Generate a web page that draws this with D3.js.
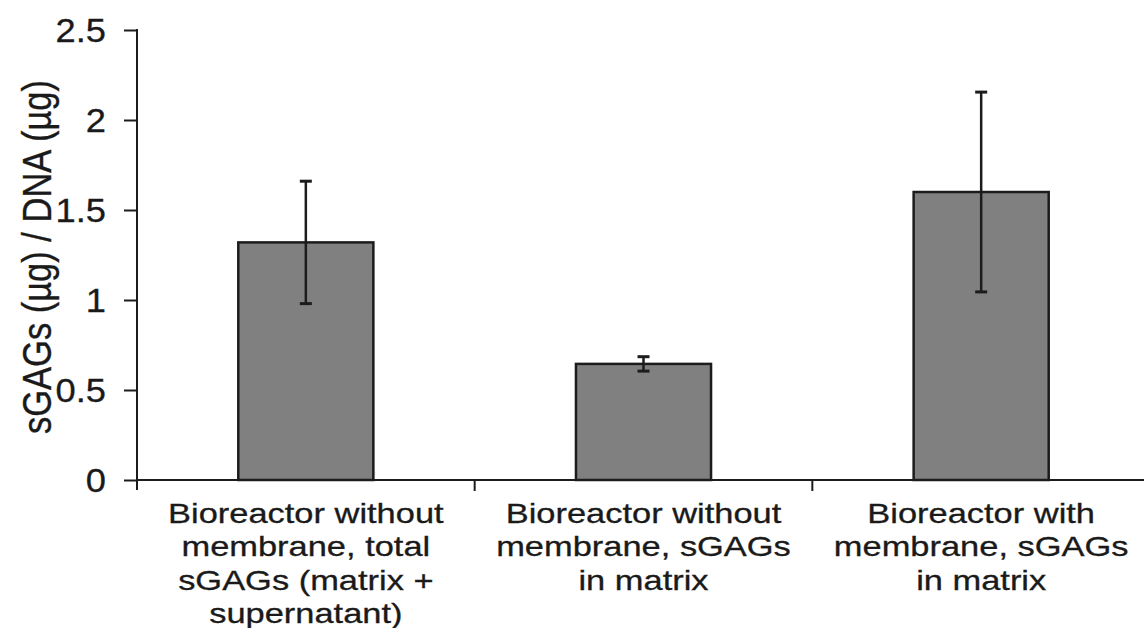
<!DOCTYPE html>
<html>
<head>
<meta charset="utf-8">
<script src="https://cdn.jsdelivr.net/npm/d3@7"></script>
<style>
  html, body { margin: 0; padding: 0; background: #fff; }
  svg { display: block; }
  text { font-family: "Liberation Sans", Arial, sans-serif; fill: #1a1a1a; stroke: #1a1a1a; stroke-width: 0.3px; }
</style>
</head>
<body>
<svg id="chart" width="1144" height="628"></svg>
<script>
// ---- data ----
const categories = [
  ["Bioreactor without", "membrane, total", "sGAGs (matrix +", "supernatant)"],
  ["Bioreactor without", "membrane, sGAGs", "in matrix"],
  ["Bioreactor with", "membrane, sGAGs", "in matrix"]
];
const means = [1.32, 0.645, 1.60];
const errors = [0.34, 0.04, 0.555];
const yTicks = [0, 0.5, 1, 1.5, 2, 2.5];
const yTickLabels = ["0", "0.5", "1", "1.5", "2", "2.5"];
const yTitle = "sGAGs (\u00b5g) / DNA (\u00b5g)";

// ---- layout ----
const svg = d3.select("#chart");
const x0 = 137, x1 = 1150, yBase = 480, yTop = 30;
const ids = categories.map((d, i) => i);
const x = d3.scaleBand().domain(ids).range([x0, x1]).padding(0);
const y = d3.scaleLinear().domain([0, 2.5]).range([yBase, yTop]);
const barW = x.bandwidth() * 0.4;
const ink = "#1c1c1c";

// bars
svg.append("g").selectAll("rect").data(means).join("rect")
  .attr("x", (d, i) => x(i) + x.bandwidth() / 2 - barW / 2)
  .attr("y", d => y(d))
  .attr("width", barW)
  .attr("height", d => y(0) - y(d))
  .attr("fill", "#808080")
  .attr("stroke", ink)
  .attr("stroke-width", 2.5);

// error bars
const eb = svg.append("g").attr("stroke", ink).attr("stroke-width", 2.5);
means.forEach((m, i) => {
  const cx = x(i) + x.bandwidth() / 2;
  const hi = y(m + errors[i]), lo = y(m - errors[i]);
  eb.append("line").attr("x1", cx).attr("x2", cx).attr("y1", hi).attr("y2", lo);
  eb.append("line").attr("x1", cx - 6).attr("x2", cx + 6).attr("y1", hi).attr("y2", hi).attr("stroke-width", 3);
  eb.append("line").attr("x1", cx - 6).attr("x2", cx + 6).attr("y1", lo).attr("y2", lo).attr("stroke-width", 3);
});

// y axis
const yAxis = d3.axisLeft(y).tickValues(yTicks).tickSize(13).tickSizeOuter(0)
  .tickFormat((d, i) => yTickLabels[i]).tickPadding(0);
const gy = svg.append("g").attr("transform", `translate(${x0},0)`).call(yAxis);
gy.select(".domain").remove();
gy.selectAll(".tick line").attr("stroke", ink).attr("stroke-width", 2);
gy.selectAll(".tick text").remove();
yTicks.forEach((t, i) => {
  svg.append("text")
    .attr("transform", `translate(106,${y(t) + 12}) scale(1.1,1)`)
    .attr("text-anchor", "end")
    .attr("font-size", 33)
    .text(yTickLabels[i]);
});
svg.append("line").attr("x1", x0).attr("x2", x0).attr("y1", y(2.5) - 1).attr("y2", yBase + 10)
  .attr("stroke", ink).attr("stroke-width", 2);

// x axis
svg.append("line").attr("x1", x0).attr("x2", 1144).attr("y1", yBase).attr("y2", yBase)
  .attr("stroke", ink).attr("stroke-width", 2);
const xb = x.domain().map(i => x(i)).concat([x1]);
xb.slice(1, 3).forEach(bx => {
  svg.append("line").attr("x1", bx).attr("x2", bx).attr("y1", yBase).attr("y2", yBase + 11)
    .attr("stroke", ink).attr("stroke-width", 2);
});

// category labels
categories.forEach((lines, i) => {
  const cx = x(i) + x.bandwidth() / 2;
  lines.forEach((ln, j) => {
    svg.append("text")
      .attr("transform", `translate(${cx},${523 + j * 33.3}) scale(1.23,1)`)
      .attr("text-anchor", "middle")
      .attr("font-size", 28)
      .text(ln);
  });
});

// y title
svg.append("text")
  .attr("transform", "translate(51,257) scale(1.18,1) rotate(-90)")
  .attr("text-anchor", "middle")
  .attr("font-size", 34.5)
  .text(yTitle);
</script>
</body>
</html>
